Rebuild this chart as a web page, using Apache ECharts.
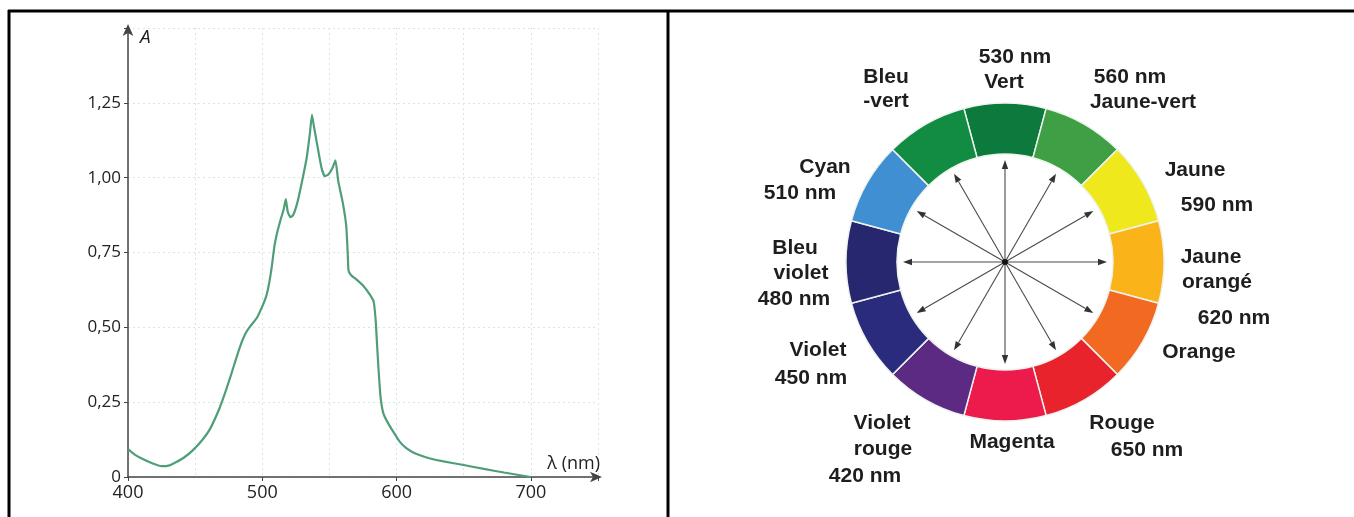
<!DOCTYPE html>
<html><head><meta charset="utf-8">
<script src="https://cdn.jsdelivr.net/npm/echarts@6/dist/echarts.min.js"></script>
<style>html,body{margin:0;padding:0;background:#fff}#c{width:1354px;height:517px}</style>
</head><body><div id="c"></div>
<script>
// ---- Absorption spectrum data ----
const wavelengths = [400,405,411,418,425,431,436,442,448,455,461,468,473,477,483,487,490,496,500,503,505,507,509,511,514,516,517.5,519,521,523,526,529,533,535.5,537,538.5,540.5,544,546.5,549,552,554.5,556.5,560,562.5,563.5,564.2,566,570,575,580,583,584.5,585.5,586.5,588,590,593,597,602,607,612,618,625,635,650,665,680,700];
const absorbance  = [0.093,0.075,0.060,0.046,0.036,0.039,0.050,0.066,0.088,0.122,0.160,0.228,0.290,0.345,0.430,0.475,0.497,0.532,0.570,0.605,0.645,0.700,0.770,0.815,0.865,0.895,0.928,0.885,0.868,0.875,0.915,0.975,1.065,1.150,1.210,1.170,1.120,1.035,1.005,1.010,1.030,1.058,0.990,0.915,0.840,0.760,0.690,0.675,0.660,0.640,0.610,0.585,0.520,0.440,0.365,0.270,0.215,0.185,0.155,0.120,0.097,0.083,0.072,0.062,0.052,0.040,0.027,0.015,0.000];
const xTickValues = [400,500,600,700];
const yTickLabels = ['0','0,25','0,50','0,75','1,00','1,25'];

// ---- Colour wheel data ----
const segmentNames  = ['Vert','Jaune-vert','Jaune','Jaune orangé','Orange','Rouge','Magenta','Violet rouge','Violet','Bleu violet','Cyan','Bleu-vert'];
const segmentColors = ['#0c7a3d','#3f9f44','#eee81c','#fab41a','#f26a22','#e8232b','#ec1b4c','#5c2a82','#2b2b7d','#26276f','#3f8fd2','#128b43'];
const arrowAngles   = [0,30,60,90,120,150,180,210,240,270,300,330];
const wheelLabelLines = ['530 nm','Vert','Bleu','-vert','560 nm','Jaune-vert','Jaune','590 nm','Jaune','orangé','620 nm','Orange','Rouge','650 nm','Magenta','Violet','rouge','420 nm','Violet','450 nm','Bleu','violet','480 nm','Cyan','510 nm'];

// ---- layout (positions only) ----
const wheelLabelPos = [[1015,57],[1004,82],[886,77],[886,101],[1130,77],[1143,102],[1195,170],[1217,205],[1211,257],[1217,282],[1234,318],[1199,352],[1122,423],[1147,450],[1012,442],[882,423],[883,449],[865,476],[818,350],[811,378],[795,248],[801,273],[794,299],[825,167],[800,193]];
const wheelCenter = [1005,262];
const ringInner = 108, ringOuter = 159, arrowLen = 102;

const chart = echarts.init(document.getElementById('c'));

const graphics = [
  {type:'line', shape:{x1:9,y1:10,x2:9,y2:517}, style:{stroke:'#000',lineWidth:3}},
  {type:'line', shape:{x1:8,y1:11,x2:1354,y2:11}, style:{stroke:'#000',lineWidth:3}},
  {type:'line', shape:{x1:668,y1:10,x2:668,y2:517}, style:{stroke:'#000',lineWidth:3}}
];
wheelLabelLines.forEach((t,i)=>{
  graphics.push({type:'text', x:wheelLabelPos[i][0], y:wheelLabelPos[i][1],
    style:{text:t, fill:'#1e1e1e', font:'bold 21px "Liberation Sans", Arial, sans-serif', textAlign:'center', textVerticalAlign:'middle'}});
});

const option = {
  animation:false,
  grid:{left:128, right:756, top:28, bottom:40, containLabel:false},
  xAxis:{type:'value', min:400, max:750, interval:100,
    name:'λ (nm)', nameLocation:'end', nameGap:2,
    nameTextStyle:{color:'#222', fontSize:18, fontFamily:'Open Sans', align:'right', verticalAlign:'bottom', padding:[0,0,4,0]},
    axisLine:{show:true, lineStyle:{color:'#444', width:1.5}, symbol:['none','arrow'], symbolSize:[8,12], symbolOffset:[0,4]},
    axisTick:{show:true, length:4, lineStyle:{color:'#444'}},
    axisLabel:{color:'#222', fontSize:18, fontFamily:'Open Sans', margin:7, formatter:v=>xTickValues.includes(v)?String(v):''},
    splitLine:{show:true, lineStyle:{color:'#dde2e5', type:[2,3], width:1}},
    minorTick:{show:false, splitNumber:2},
    minorSplitLine:{show:true, lineStyle:{color:'#dde2e5', type:[2,3], width:1}}
  },
  yAxis:{type:'value', min:0, max:1.5, interval:0.25,
    name:'A', nameLocation:'end', nameGap:-10,
    nameTextStyle:{color:'#222', fontSize:19, fontStyle:'italic', fontFamily:'Open Sans', align:'left', verticalAlign:'middle', padding:[0,0,0,12]},
    axisLine:{show:true, lineStyle:{color:'#444', width:1.5}, symbol:['none','arrow'], symbolSize:[8,12], symbolOffset:[0,4]},
    axisTick:{show:true, length:4, lineStyle:{color:'#444'}},
    axisLabel:{color:'#222', fontSize:17, fontFamily:'Open Sans', margin:7, formatter:v=>{const k=Math.round(v/0.25); return (Math.abs(v-k*0.25)<1e-6 && k<yTickLabels.length)?yTickLabels[k]:'';}},
    splitLine:{show:true, lineStyle:{color:'#dde2e5', type:[2,3], width:1}}
  },
  polar:{center:wheelCenter, radius:ringOuter},
  angleAxis:{type:'value', min:0, max:360, startAngle:90, clockwise:true, show:false, axisLine:{show:false}, splitLine:{show:false}, axisLabel:{show:false}, axisTick:{show:false}},
  radiusAxis:{type:'value', min:0, max:ringOuter, show:false, axisLine:{show:false}, splitLine:{show:false}, axisLabel:{show:false}, axisTick:{show:false}},
  series:[
    {type:'line', xAxisIndex:0, yAxisIndex:0, data:wavelengths.map((w,i)=>[w,absorbance[i]]),
      showSymbol:false, smooth:0.15, lineStyle:{color:'#4f9e79', width:2.2}, silent:true},
    {type:'pie', center:wheelCenter, radius:[ringInner, ringOuter], startAngle:105, clockwise:true,
      label:{show:false}, labelLine:{show:false}, silent:true, emphasis:{disabled:true},
      itemStyle:{borderColor:'#eef3ee', borderWidth:1.5},
      data:segmentNames.map((n,i)=>({name:n, value:1, itemStyle:{color:segmentColors[i]}}))},
    {type:'custom', coordinateSystem:'polar', silent:true,
      encode:{radius:0, angle:1},
      data:arrowAngles.map(a=>[arrowLen, a]),
      renderItem:(params, api)=>{
        const r = api.value(0), a = api.value(1);
        const c = api.coord([0, a]), t = api.coord([r, a]);
        const dx=t[0]-c[0], dy=t[1]-c[1], L=Math.sqrt(dx*dx+dy*dy);
        const ux=dx/L, uy=dy/L, px=-uy, py=ux, h=9, w=3.2;
        const b=[t[0]-ux*h, t[1]-uy*h];
        return {type:'group', children:[
          {type:'line', shape:{x1:c[0],y1:c[1],x2:b[0],y2:b[1]}, style:{stroke:'#4a4a4a', lineWidth:1.1}},
          {type:'polygon', shape:{points:[t,[b[0]+px*w,b[1]+py*w],[b[0]-px*w,b[1]-py*w]]}, style:{fill:'#333'}}
        ]};
      }},
    {type:'scatter', coordinateSystem:'polar', data:[[0,0]], symbolSize:6, itemStyle:{color:'#000'}, silent:true}
  ],
  graphic:graphics
};
chart.setOption(option);
</script></body></html>
